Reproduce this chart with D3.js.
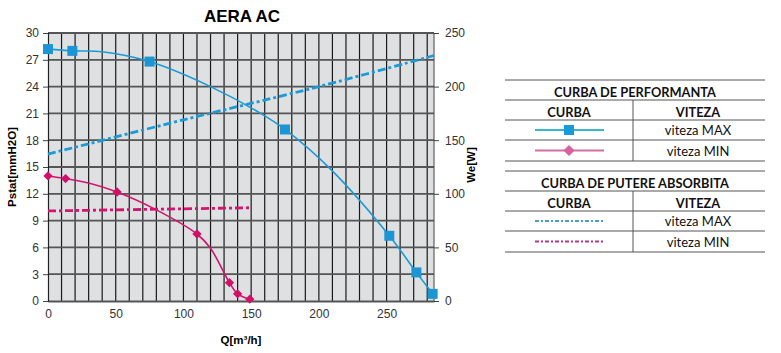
<!DOCTYPE html>
<html>
<head>
<meta charset="utf-8">
<script src="https://cdn.jsdelivr.net/npm/d3@7"></script>
<style>
  body { margin: 0; background: #fff; }
  svg { display: block; }
</style>
</head>
<body>
<svg id="chart" width="781" height="353"></svg>
<script>
// curba de performanta, viteza MAX (linie + markeri)
const maxCurveQ = [0, 18, 40, 75, 120, 157, 175, 209, 252, 272, 284];
const maxCurveP = [28.2, 28.0, 27.9, 26.8, 24.0, 21.0, 19.2, 14.7, 7.3, 3.2, 0.8];
const maxMarkQ = [0, 18, 75, 175, 252, 272, 284];
const maxMarkP = [28.2, 28.0, 26.8, 19.2, 7.3, 3.2, 0.8];

// curba de performanta, viteza MIN
const minCurveQ = [0, 13, 30, 51, 80, 110, 120, 134, 140, 149];
const minCurveP = [14.0, 13.7, 13.2, 12.2, 10.2, 7.5, 5.9, 2.05, 0.8, 0.2];
const minMarkQ = [0, 13, 51, 110, 134, 140, 149];
const minMarkP = [14.0, 13.7, 12.2, 7.5, 2.05, 0.8, 0.2];

// curba de putere absorbita [W]
const powMaxQ = [0, 100, 200, 285];
const powMaxW = [137, 169, 200, 229];
const powMinQ = [0, 150];
const powMinW = [84, 87];

const xTicks = [0, 50, 100, 150, 200, 250];
const yTicks = [0, 3, 6, 9, 12, 15, 18, 21, 24, 27, 30];
const y2Ticks = [0, 50, 100, 150, 200, 250];

const blue = "#1a9ad6";
const magenta = "#d4146f";

const svg = d3.select("#chart");
const m = { left: 48, right: 434, top: 33, bottom: 301 };

const x = d3.scaleLinear().domain([0, 285]).range([m.left, m.right]);
const y = d3.scaleLinear().domain([0, 30]).range([m.bottom, m.top]);
const y2 = d3.scaleLinear().domain([0, 250]).range([m.bottom, m.top]);

// fundal
svg.append("rect")
  .attr("x", m.left).attr("y", m.top)
  .attr("width", m.right - m.left).attr("height", m.bottom - m.top)
  .attr("fill", "#dfe0e2");

// grila verticala la 10 m3/h
svg.append("g").selectAll("line")
  .data(d3.range(10, 281, 10))
  .enter().append("line")
  .attr("x1", d => x(d)).attr("x2", d => x(d))
  .attr("y1", m.top).attr("y2", m.bottom)
  .attr("stroke", "#1a1a1a").attr("stroke-width", 1.2);

// grila orizontala
svg.append("g").selectAll("line")
  .data(yTicks.slice(1))
  .enter().append("line")
  .attr("x1", m.left).attr("x2", m.right)
  .attr("y1", d => y(d)).attr("y2", d => y(d))
  .attr("stroke", "#555").attr("stroke-width", 1.8);

svg.append("line")
  .attr("x1", m.right).attr("x2", m.right).attr("y1", m.top).attr("y2", m.bottom)
  .attr("stroke", "#444").attr("stroke-width", 1);

// axe
const axisFont = "'Liberation Sans', Arial, sans-serif";

const gx = svg.append("g")
  .attr("transform", `translate(0,${m.bottom})`)
  .call(d3.axisBottom(x).tickValues(xTicks).tickSize(0).tickPadding(8));
const gy = svg.append("g")
  .attr("transform", `translate(${m.left},0)`)
  .call(d3.axisLeft(y).tickValues(yTicks).tickSize(5).tickPadding(4));
const gy2 = svg.append("g")
  .attr("transform", `translate(${m.right},0)`)
  .call(d3.axisRight(y2).tickValues(y2Ticks).tickSize(5).tickPadding(6));

[gx, gy, gy2].forEach(g => {
  g.select(".domain").attr("stroke", "#222").attr("stroke-width", 1.2);
  g.selectAll(".tick line").attr("stroke", "#444");
  g.selectAll("text").style("font-family", axisFont).style("font-size", "12px").attr("fill", "#333");
});
gx.select(".domain").attr("stroke", "#555").attr("stroke-width", 1.8);
gy2.select(".domain").remove();

// titluri
svg.append("text")
  .attr("x", 242).attr("y", 22)
  .attr("text-anchor", "middle")
  .text("AERA AC")
  .style("font-family", axisFont).style("font-size", "17px").style("font-weight", "bold");

svg.append("text")
  .attr("x", 241).attr("y", 344)
  .attr("text-anchor", "middle")
  .text("Q[m³/h]")
  .style("font-family", axisFont).style("font-size", "11.5px").style("font-weight", "bold");

svg.append("text")
  .attr("transform", "translate(16,167) rotate(-90)")
  .attr("text-anchor", "middle")
  .text("Pstat[mmH2O]")
  .style("font-family", axisFont).style("font-size", "11.5px").style("font-weight", "bold");

svg.append("text")
  .attr("transform", "translate(475,165) rotate(-90)")
  .attr("text-anchor", "middle")
  .text("We[W]")
  .style("font-family", axisFont).style("font-size", "11.5px").style("font-weight", "bold");

// curbe
const line = d3.line().x(d => x(d[0])).y(d => d[1]).curve(d3.curveCatmullRom.alpha(0.5));

const dashPattern = "8,3,3,3";

svg.append("path")
  .attr("d", line(powMaxQ.map((q, i) => [q, y2(powMaxW[i])])))
  .attr("fill", "none").attr("stroke", blue).attr("stroke-width", 2.8)
  .attr("stroke-dasharray", dashPattern);

svg.append("path")
  .attr("d", line(powMinQ.map((q, i) => [q, y2(powMinW[i])])))
  .attr("fill", "none").attr("stroke", magenta).attr("stroke-width", 2.8)
  .attr("stroke-dasharray", dashPattern);

svg.append("path")
  .attr("d", line(maxCurveQ.map((q, i) => [q, y(maxCurveP[i])])))
  .attr("fill", "none").attr("stroke", blue).attr("stroke-width", 1.6);

svg.append("path")
  .attr("d", line(minCurveQ.map((q, i) => [q, y(minCurveP[i])])))
  .attr("fill", "none").attr("stroke", magenta).attr("stroke-width", 1.6);

svg.append("g").selectAll("rect")
  .data(maxMarkQ.map((q, i) => [q, maxMarkP[i]]))
  .enter().append("rect")
  .attr("x", d => x(d[0]) - 5).attr("y", d => y(d[1]) - 5)
  .attr("width", 10).attr("height", 10)
  .attr("fill", "#1b95d3");

svg.append("g").selectAll("path")
  .data(minMarkQ.map((q, i) => [q, minMarkP[i]]))
  .enter().append("path")
  .attr("d", d3.symbol().type(d3.symbolDiamond2).size(55))
  .attr("transform", d => `translate(${x(d[0])},${y(d[1])})`)
  .attr("fill", "#cf1268");

// legenda (tabel)
const legFont = "Lato, 'Open Sans', sans-serif";
const lg = svg.append("g");
const tL = 505, tR = 765, tMid = 633;

function hline(yy) {
  lg.append("line").attr("x1", tL).attr("x2", tR).attr("y1", yy).attr("y2", yy)
    .attr("stroke", "#555").attr("stroke-width", 1);
}
function ltext(xx, yy, t, bold) {
  lg.append("text").attr("x", xx).attr("y", yy).attr("text-anchor", "middle")
    .attr("dominant-baseline", "central")
    .text(t)
    .style("font-family", legFont).style("font-size", bold ? "12.8px" : "13px")
    .style("font-weight", bold ? "bold" : "normal").attr("fill", "#111");
}

function block(top, title, rows) {
  hline(top);
  ltext(635, top + 11.5, title, true);
  hline(top + 20);
  ltext(569, top + 31.5, "CURBA", true);
  ltext(698, top + 31.5, "VITEZA", true);
  hline(top + 40);
  hline(top + 60);
  hline(top + 81);
  lg.append("line").attr("x1", tMid).attr("x2", tMid).attr("y1", top + 20).attr("y2", top + 81)
    .attr("stroke", "#555").attr("stroke-width", 1);
  rows.forEach((r, i) => {
    const cy = top + 50 + i * 20.5;
    lg.append("line").attr("x1", 535).attr("x2", 604).attr("y1", cy).attr("y2", cy)
      .attr("stroke", r.color).attr("stroke-width", r.dash ? 2.2 : 2)
      .attr("stroke-dasharray", r.dash || null);
    if (r.marker === "square") {
      lg.append("rect").attr("x", 564).attr("y", cy - 5).attr("width", 10).attr("height", 10).attr("fill", r.mcolor);
    } else if (r.marker === "diamond") {
      lg.append("path").attr("d", d3.symbol().type(d3.symbolDiamond2).size(80))
        .attr("transform", `translate(569,${cy})`).attr("fill", r.mcolor);
    }
    ltext(698, cy, r.label, false);
  });
}

block(80, "CURBA DE PERFORMANTA", [
  { color: "#3cb5cf", marker: "square", mcolor: "#1a9ad6", label: "viteza MAX" },
  { color: "#d36fa3", marker: "diamond", mcolor: "#d9609f", label: "viteza MIN" }
]);
block(171, "CURBA DE PUTERE ABSORBITA", [
  { color: "#4a9cc0", dash: "4,2,2,2", label: "viteza MAX" },
  { color: "#b0388e", dash: "4,2,2,2", label: "viteza MIN" }
]);
</script>
</body>
</html>
